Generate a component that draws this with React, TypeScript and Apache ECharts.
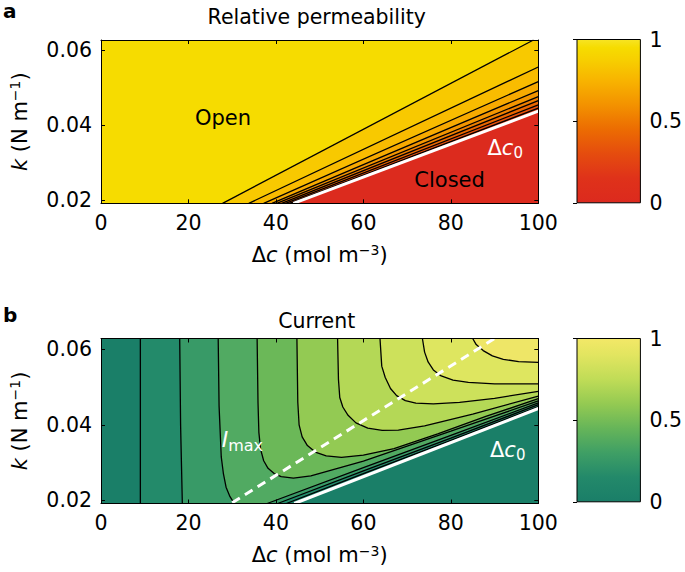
import React, { useEffect, useRef } from "react";
import * as echarts from "echarts";

const FONT = "'DejaVu Sans', 'Liberation Sans', sans-serif";

// ---------- axes ----------
const dcTicks = [0, 20, 40, 60, 80, 100];
const kTicks = [0.02, 0.04, 0.06];
const colorbarTicks = [0, 0.5, 1];
const dcExtent = [0, 100];
const kExtent = [0.0192, 0.0628];

// ---------- panel a: relative permeability contour lines (Δc, k) ----------
const permLevels = [0.9, 0.8, 0.7, 0.6, 0.5, 0.4, 0.3, 0.2];
const permLine1 = [[27.8, 0.0192], [98.9, 0.0628]];
const permLine2 = [[33.8, 0.0192], [100, 0.0556]];
const permLine3 = [[37.2, 0.0192], [100, 0.0517]];
const permLine4 = [[39.1, 0.0192], [100, 0.0493]];
const permLine5 = [[40.2, 0.0192], [100, 0.0477]];
const permLine6 = [[41.3, 0.0192], [100, 0.0466]];
const permLine7 = [[42.2, 0.0192], [100, 0.0455]];
const permLine8 = [[43.1, 0.0192], [100, 0.0446]];
const closedBoundaryA = [[44.0, 0.0192], [100, 0.0438]];
const permBandColors = ["#f6dc00", "#f8c900", "#f9bc00", "#f7aa00", "#f39500", "#ef7f00", "#eb6700", "#e6500c", "#e13c16"];
const closedColor = "#dc2b1e";

// ---------- panel b: current contour lines (Δc, k) ----------
const currLevels = [0.1, 0.2, 0.3, 0.4, 0.5, 0.6, 0.7, 0.8, 0.9];
const currLine1 = [[9.0, 0.0628], [9.0, 0.0192]];
const currLine1Low = [[42.4, 0.0192], [60, 0.0271], [80, 0.0359], [100, 0.0448]];
const currLine2 = [[18.0, 0.0628], [18.2, 0.04], [18.6, 0.0192]];
const currLine2Low = [[40.4, 0.0192], [60, 0.0278], [80, 0.0365], [100, 0.0453]];
const currLine3 = [[26.8, 0.0628], [27.0, 0.045], [27.5, 0.0315], [28.0, 0.027], [28.6, 0.0235], [29.5, 0.021], [30.5, 0.0192]];
const currLine3Low = [[38.0, 0.0192], [60, 0.0287], [80, 0.0372], [100, 0.0458]];
const currLine4 = [[35.7, 0.0628], [35.9, 0.046], [36.1, 0.038], [36.5, 0.0335], [37.2, 0.0305], [38.2, 0.0285], [39.6, 0.0271], [41.2, 0.0263], [44.0, 0.0259], [48.0, 0.0265], [60, 0.0304], [80, 0.0383], [100, 0.0463]];
const currLine5 = [[44.8, 0.0628], [45.0, 0.046], [45.3, 0.040], [46.0, 0.0368], [47.2, 0.0345], [49.0, 0.0328], [51.5, 0.0318], [55.0, 0.0314], [60, 0.0320], [67, 0.0337], [77, 0.0376], [88, 0.0422], [100, 0.0469]];
const currLine6 = [[54.1, 0.0628], [54.3, 0.052], [54.6, 0.0472], [55.3, 0.0447], [56.5, 0.0425], [58.3, 0.0405], [61.0, 0.0391], [64.3, 0.0385], [68.0, 0.0386], [74.0, 0.0397], [85, 0.0428], [100, 0.0476]];
const currLine7 = [[63.8, 0.0628], [64.2, 0.0555], [65.0, 0.0525], [66.2, 0.0496], [67.6, 0.0477], [69.6, 0.0464], [72.0, 0.0457], [76.0, 0.0455], [82, 0.0459], [90, 0.0470], [100, 0.0488]];
const currLine8 = [[73.5, 0.0628], [74.0, 0.0592], [74.8, 0.0566], [76.0, 0.0545], [77.8, 0.0529], [80.5, 0.0518], [84.0, 0.0512], [90, 0.0508], [100, 0.0508]];
const currLine9 = [[85.0, 0.0628], [85.8, 0.0612], [87.4, 0.0596], [89.5, 0.0582], [92.0, 0.0573], [95.5, 0.0567], [100, 0.0565]];
const closedBoundaryB = [[44.2, 0.0192], [100, 0.0443]];
const imaxLine = [[30.0, 0.0194], [90.0, 0.0628]];
const currBandColors = ["#1a7f68", "#238a6a", "#389a67", "#51aa62", "#6bb858", "#93ca53", "#b4d856", "#cde15b", "#dee660", "#eee667"];

// ---------- colorbars ----------
const colorbarAPos = [0, 0.15, 0.3, 0.45, 0.6, 0.75, 0.88, 0.95, 1];
const colorbarAHex = ["#dc2a1e", "#df321a", "#e54c0e", "#ec6c02", "#f39200", "#f8b400", "#f7d000", "#f6dc00", "#f7e424"];
const colorbarBPos = [0, 0.15, 0.3, 0.45, 0.6, 0.75, 0.9, 1];
const colorbarBHex = ["#1a7e68", "#23896a", "#3f9f65", "#66b559", "#94ca52", "#c0dc57", "#e2e560", "#f3e867"];

const [dcMin, dcMax] = dcExtent;
const [kMin, kMax] = kExtent;

function fillSeries(points: number[][], color: string, xi: number, yi: number, z = 1) {
  return {
    type: "custom",
    xAxisIndex: xi,
    yAxisIndex: yi,
    clip: true,
    silent: true,
    z,
    data: [[dcMin, kMin]],
    renderItem: (_p: any, api: any) => ({
      type: "polygon",
      shape: { points: points.map((p) => api.coord(p)) },
      style: { fill: color, stroke: color, lineWidth: 0.3 },
    }),
  };
}

function lineSeries(points: number[][], xi: number, yi: number, color = "#000", width = 1.3, z = 3, type: any = "solid") {
  return {
    type: "line",
    xAxisIndex: xi,
    yAxisIndex: yi,
    data: points,
    symbol: "none",
    showSymbol: false,
    silent: true,
    z,
    lineStyle: { color, width, type, cap: "butt" },
  };
}

function belowRegion(line: number[][]) {
  const pts = line.slice();
  const last = line[line.length - 1];
  if (last[1] >= kMax - 1e-9) pts.push([dcMax, kMax]);
  pts.push([dcMax, kMin]);
  return pts;
}

function insideRegion(curve: number[][], lower?: number[][]) {
  const pts = curve.slice();
  if (lower) pts.push(...lower);
  pts.push([dcMax, kMax]);
  return pts;
}

function colorbarSeries(pos: number[], hex: string[], xi: number, yi: number) {
  return {
    type: "custom",
    xAxisIndex: xi,
    yAxisIndex: yi,
    silent: true,
    z: 1,
    data: [[0, 0]],
    renderItem: (_p: any, api: any) => {
      const a = api.coord([0, 0]);
      const b = api.coord([1, 1]);
      return {
        type: "rect",
        shape: { x: a[0], y: b[1], width: b[0] - a[0], height: a[1] - b[1] },
        style: {
          fill: new echarts.graphic.LinearGradient(0, 1, 0, 0, pos.map((p, i) => ({ offset: p, color: hex[i] }))),
          stroke: "#000",
          lineWidth: 1,
        },
      };
    },
  };
}

const richName = {
  i: { fontStyle: "italic", fontSize: 21, fontFamily: FONT, color: "#000" },
  sup: { fontSize: 14, fontFamily: FONT, color: "#000", verticalAlign: "top", lineHeight: 14 },
};

const TICK_FONT = 20.5;

function plotAxes(grid: number) {
  const tickStyle = { inside: true, length: 4, lineStyle: { color: "#000", width: 1 } };
  const line = { show: true, onZero: false, lineStyle: { color: "#000", width: 1 } };
  const x = [
    {
      gridIndex: grid, type: "value", min: dcMin, max: dcMax, interval: dcTicks[1] - dcTicks[0], position: "bottom", z: 10,
      axisLine: line, axisTick: tickStyle, splitLine: { show: false },
      axisLabel: { fontSize: TICK_FONT, fontFamily: FONT, color: "#000", margin: 9 },
      name: "Δ{i|c} (mol m{sup|−3})", nameLocation: "middle", nameGap: 40,
      nameTextStyle: { fontSize: 21, fontFamily: FONT, color: "#000", lineHeight: 23, rich: richName },
    },
    {
      gridIndex: grid, type: "value", min: dcMin, max: dcMax, interval: dcTicks[1] - dcTicks[0], position: "top", z: 10,
      axisLine: line, axisTick: tickStyle, splitLine: { show: false }, axisLabel: { show: false },
    },
  ];
  const y = [
    {
      gridIndex: grid, type: "value", min: kMin, max: kMax, position: "left", z: 10,
      axisLine: line, axisTick: { ...tickStyle, customValues: kTicks }, splitLine: { show: false },
      axisLabel: { customValues: kTicks, formatter: (v: number) => v.toFixed(2), fontSize: TICK_FONT, fontFamily: FONT, color: "#000", margin: 9 },
      name: "{i|k} (N m{sup|−1})", nameLocation: "middle", nameGap: 70, nameRotate: 90,
      nameTextStyle: { fontSize: 21, fontFamily: FONT, color: "#000", lineHeight: 23, rich: richName },
    },
    {
      gridIndex: grid, type: "value", min: kMin, max: kMax, position: "right", z: 10,
      axisLine: line, axisTick: { ...tickStyle, customValues: kTicks }, splitLine: { show: false },
      axisLabel: { show: false },
    },
  ];
  return { x, y };
}

function colorbarAxes(grid: number) {
  return {
    x: { gridIndex: grid, type: "value", min: 0, max: 1, show: false },
    y: {
      gridIndex: grid, type: "value", min: 0, max: 1, interval: colorbarTicks[1] - colorbarTicks[0], position: "right", z: 10,
      axisLine: { show: false }, splitLine: { show: false },
      axisTick: { inside: true, length: 4, lineStyle: { color: "#000", width: 1 } },
      axisLabel: { fontSize: TICK_FONT, fontFamily: FONT, color: "#000", margin: 9, formatter: (v: number) => String(v) },
    },
  };
}

function buildOption() {
  const pa = plotAxes(0);
  const ca = colorbarAxes(1);
  const pb = plotAxes(2);
  const cb = colorbarAxes(3);

  const permLines = [permLine1, permLine2, permLine3, permLine4, permLine5, permLine6, permLine7, permLine8];
  const currUpper = [currLine1, currLine2, currLine3, currLine4, currLine5, currLine6, currLine7, currLine8, currLine9];
  const currLower: (number[][] | undefined)[] = [currLine1Low, currLine2Low, currLine3Low];

  const full = [[dcMin, kMin], [dcMax, kMin], [dcMax, kMax], [dcMin, kMax]];
  const series: any[] = [];

  // panel a (axes x0, y0)
  series.push(fillSeries(full, permBandColors[0], 0, 0));
  permLines.forEach((ln, i) => series.push(fillSeries(belowRegion(ln), permBandColors[i + 1], 0, 0)));
  series.push(fillSeries(belowRegion(closedBoundaryA), closedColor, 0, 0));
  permLines.forEach((ln) => series.push(lineSeries(ln, 0, 0)));
  series.push(lineSeries(closedBoundaryA, 0, 0, "#fff", 3, 4));

  // colorbar a (axes x2, y2)
  series.push(colorbarSeries(colorbarAPos, colorbarAHex, 2, 2));

  // panel b (axes x3, y3)
  series.push(fillSeries(full, currBandColors[0], 3, 3));
  currUpper.forEach((c, i) => series.push(fillSeries(insideRegion(c, currLower[i]), currBandColors[i + 1], 3, 3)));
  currUpper.forEach((c) => series.push(lineSeries(c, 3, 3)));
  currLower.forEach((c) => c && series.push(lineSeries(c, 3, 3)));
  series.push(lineSeries(closedBoundaryB, 3, 3, "#fff", 3, 4));
  series.push(lineSeries(imaxLine, 3, 3, "#fff", 3, 4, [9, 6]));

  // colorbar b (axes x5, y5)
  series.push(colorbarSeries(colorbarBPos, colorbarBHex, 5, 5));

  const txt = (x: number, y: number, text: string, size: number, color: string, extra: any = {}) => ({
    type: "text", x, y, z: 100, silent: true,
    style: { text, fontSize: size, fontFamily: FONT, fill: color, align: "center", verticalAlign: "middle", ...extra },
  });
  const subRich = (color: string, main = 21, sub = 15) => ({
    n: { fontSize: main, fontFamily: FONT, fill: color, color },
    i: { fontSize: main, fontFamily: FONT, fontStyle: "italic", fill: color, color },
    s: { fontSize: sub, fontFamily: FONT, fill: color, color, lineHeight: sub, padding: [11, 0, 0, 0] },
  });

  const graphic = [
    txt(3, 11, "a", 20, "#000", { align: "left", fontWeight: "bold" }),
    txt(3, 314.8, "b", 20, "#000", { align: "left", fontWeight: "bold" }),
    txt(316.7, 16.9, "Relative permeability", 20.5, "#000"),
    txt(316.7, 320.8, "Current", 20.5, "#000"),
    txt(223, 117.6, "Open", 21, "#000"),
    txt(449.6, 179.6, "Closed", 21, "#000"),
    {
      type: "text", x: 487.5, y: 137, z: 100, silent: true,
      style: { text: "{n|Δ}{i|c}{s|0}", align: "left", verticalAlign: "top", rich: subRich("#fff") },
    },
    {
      type: "text", x: 490, y: 439, z: 100, silent: true,
      style: { text: "{n|Δ}{i|c}{s|0}", align: "left", verticalAlign: "top", rich: subRich("#fff") },
    },
    {
      type: "text", x: 221.7, y: 428.5, z: 100, silent: true,
      style: { text: "{i|I}{s|max}", align: "left", verticalAlign: "top", rich: subRich("#fff", 22, 16) },
    },
  ];

  return {
    animation: false,
    backgroundColor: "#fff",
    grid: [
      { left: 95, top: 40, width: 443.3, height: 163.3 },
      { left: 577, top: 39.5, width: 66.3, height: 163.3 },
      { left: 95, top: 338.5, width: 443.3, height: 165 },
      { left: 577, top: 338.5, width: 66.3, height: 163.3 },
    ],
    xAxis: [pa.x[0], pa.x[1], ca.x, pb.x[0], pb.x[1], cb.x],
    yAxis: [pa.y[0], pa.y[1], ca.y, pb.y[0], pb.y[1], cb.y],
    series,
    graphic,
    _levels: { permLevels, currLevels },
  };
}

export default function App() {
  const ref = useRef<HTMLDivElement>(null);
  useEffect(() => {
    if (!ref.current) return;
    const chart = echarts.init(ref.current, null, { renderer: "svg" });
    const opt: any = buildOption();
    delete opt._levels;
    chart.setOption(opt);
    return () => chart.dispose();
  }, []);
  return <div ref={ref} style={{ position: "fixed", left: 0, top: 0, width: 685, height: 572 }} />;
}
